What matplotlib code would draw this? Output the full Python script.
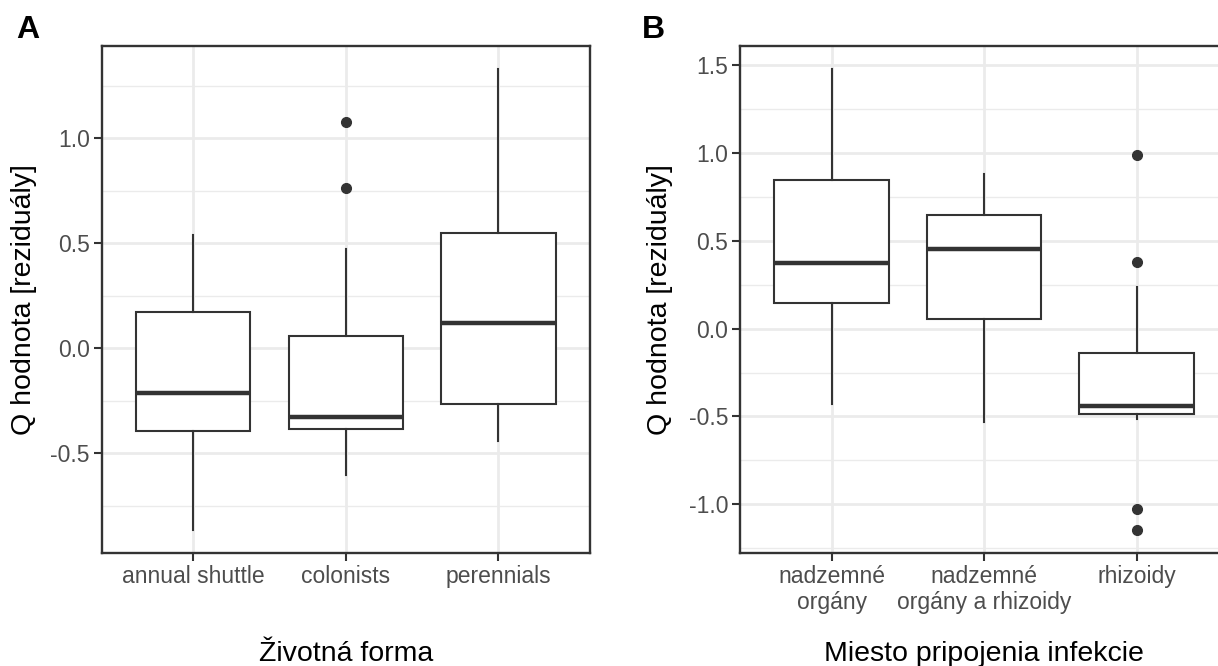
import matplotlib
matplotlib.use("Agg")
import matplotlib.pyplot as plt
from matplotlib.ticker import MultipleLocator

plt.rcParams["font.family"] = ["Liberation Sans", "DejaVu Sans"]
plt.rcParams["axes.unicode_minus"] = False

# boxplot summaries: life forms
life_forms = ["annual shuttle", "colonists", "perennials"]
lf_whislo = [-0.865, -0.603, -0.441]
lf_q1 = [-0.394, -0.383, -0.267]
lf_med = [-0.214, -0.329, 0.119]
lf_q3 = [0.170, 0.059, 0.550]
lf_whishi = [0.540, 0.471, 1.330]
lf_fliers = [[], [0.765, 1.076], []]

# boxplot summaries: infection attachment site
sites = ["nadzemné\norgány", "nadzemné\norgány a rhizoidy", "rhizoidy"]
st_whislo = [-0.429, -0.533, -0.514]
st_q1 = [0.143, 0.053, -0.486]
st_med = [0.374, 0.450, -0.442]
st_q3 = [0.847, 0.648, -0.140]
st_whishi = [1.476, 0.881, 0.236]
st_fliers = [[], [], [-1.144, -1.027, 0.380, 0.989]]

DARK = "#333333"
GRID = "#EBEBEB"


def stats(labels, lo, q1, med, q3, hi, fliers):
    return [dict(label=l, whislo=a, q1=b, med=c, q3=d, whishi=e, fliers=f)
            for l, a, b, c, d, e, f in zip(labels, lo, q1, med, q3, hi, fliers)]


def panel(ax, st, xlabel, ylabel_x):
    pos = list(range(1, len(st) + 1))
    ax.bxp(st, positions=pos, widths=0.75, showcaps=False, patch_artist=True,
           boxprops=dict(facecolor="white", edgecolor=DARK, linewidth=1.5),
           whiskerprops=dict(color=DARK, linewidth=1.5),
           medianprops=dict(color=DARK, linewidth=3.2, solid_capstyle="butt"),
           flierprops=dict(marker="o", markerfacecolor=DARK, markeredgecolor=DARK,
                           markersize=7),
           zorder=3)
    # y range: data extent padded by 5%, like ggplot
    vals = []
    for s in st:
        vals += [s["whislo"], s["whishi"]] + list(s["fliers"])
    lo, hi = min(vals), max(vals)
    pad = (hi - lo) * 0.05
    ax.set_ylim(lo - pad, hi + pad)
    ax.set_xlim(0.4, len(st) + 0.6)
    ax.yaxis.set_major_locator(MultipleLocator(0.5))
    ax.yaxis.set_minor_locator(MultipleLocator(0.25))
    ax.yaxis.set_major_formatter(lambda v, p: f"{v:.1f}")
    ax.set_xticks(pos)
    ax.set_xticklabels([s["label"] for s in st], multialignment="center")
    ax.grid(True, which="major", color=GRID, linewidth=2.0, zorder=0)
    ax.grid(True, which="minor", axis="y", color=GRID, linewidth=1.0, zorder=0)
    ax.set_axisbelow(True)
    ax.tick_params(which="major", length=5.5, width=1.5, color=DARK,
                   labelsize=16.5, labelcolor="#4D4D4D", pad=3)
    ax.tick_params(which="minor", length=0)
    for sp in ax.spines.values():
        sp.set_color(DARK)
        sp.set_linewidth(1.7)
    ax.set_ylabel("Q hodnota [reziduály]", fontsize=20.5, va="center")
    ax.yaxis.set_label_coords(ylabel_x, 0.5)
    ax.set_xlabel(xlabel, fontsize=20.5, va="baseline")
    ax.xaxis.set_label_coords(0.5, -0.2137)


fig = plt.figure(figsize=(12.18, 6.66), dpi=100)
ax_a = fig.add_axes([0.0835, 0.1701, 0.4009, 0.7608])
ax_b = fig.add_axes([0.6076, 0.1701, 0.4007, 0.7608])

panel(ax_a, stats(life_forms, lf_whislo, lf_q1, lf_med, lf_q3, lf_whishi, lf_fliers),
      "Životná forma", -0.159)
panel(ax_b, stats(sites, st_whislo, st_q1, st_med, st_q3, st_whishi, st_fliers),
      "Miesto pripojenia infekcie", -0.164)

fig.text(16 / 1218, 1 - 38 / 666, "A", fontsize=23, fontweight="bold", va="baseline")
fig.text(641.7 / 1218, 1 - 38 / 666, "B", fontsize=23, fontweight="bold", va="baseline")

fig.savefig("out.png", dpi=100, facecolor="white")
